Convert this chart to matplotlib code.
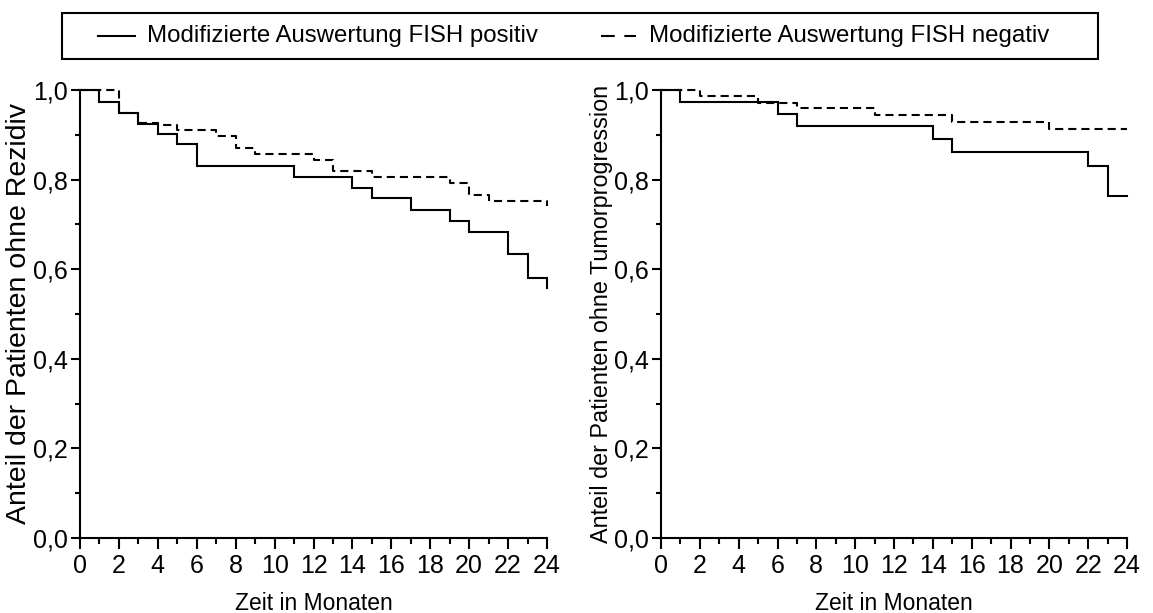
import matplotlib
matplotlib.use("Agg")
import matplotlib.pyplot as plt
from matplotlib.lines import Line2D
from matplotlib.patches import Rectangle
from matplotlib.ticker import MultipleLocator, FuncFormatter

plt.rcParams['font.family'] = ['Liberation Sans', 'DejaVu Sans']

# Kaplan-Meier estimates (months, survival fraction)
rez_pos_t = [0, 1, 2, 3, 4, 5, 6, 11, 14, 15, 17, 19, 20, 22, 23, 24]
rez_pos_s = [1.0, 0.973, 0.949, 0.925, 0.902, 0.879, 0.830, 0.806, 0.782,
             0.758, 0.732, 0.708, 0.682, 0.633, 0.581, 0.557]
rez_neg_t = [0, 2, 3, 4, 5, 7, 8, 9, 12, 13, 15, 19, 20, 21, 24]
rez_neg_s = [1.0, 0.949, 0.927, 0.922, 0.910, 0.897, 0.871, 0.857, 0.844,
             0.820, 0.805, 0.792, 0.766, 0.753, 0.740]

prog_pos_t = [0, 1, 6, 7, 14, 15, 22, 23, 24]
prog_pos_s = [1.0, 0.973, 0.946, 0.920, 0.891, 0.862, 0.830, 0.763, 0.763]
prog_neg_t = [0, 2, 5, 7, 11, 15, 20, 24]
prog_neg_s = [1.0, 0.987, 0.972, 0.959, 0.944, 0.928, 0.912, 0.912]

labels = ["Modifizierte Auswertung FISH positiv",
          "Modifizierte Auswertung FISH negativ"]
y_titles = ["Anteil der Patienten ohne Rezidiv",
            "Anteil der Patienten ohne Tumorprogression"]
x_title = "Zeit in Monaten"

W, H = 1153, 613
fig = plt.figure(figsize=(W / 100, H / 100), dpi=100)


def fx(px):
    return px / W


def fy(py):
    return 1 - py / H


LW = 1.5
DASH = (0, (3.9, 2.4))
TICK_FS = 18
XT_FS = 16.5
YT_FS = [20.5, 16.8]
LEG_FS = 17.3

ax_l = fig.add_axes([fx(80), fy(538), 467 / W, 448 / H])
ax_r = fig.add_axes([fx(661), fy(538), 466 / W, 448 / H])

series = [
    (ax_l, rez_pos_t, rez_pos_s, rez_neg_t, rez_neg_s, y_titles[0], YT_FS[0]),
    (ax_r, prog_pos_t, prog_pos_s, prog_neg_t, prog_neg_s, y_titles[1], YT_FS[1]),
]

comma = FuncFormatter(lambda v, p: f"{v:.1f}".replace(".", ","))

for ax, pt, ps, nt, ns, ytitle, yfs in series:
    ax.step(pt, ps, where="post", color="black", lw=LW, clip_on=False,
            solid_joinstyle="miter", zorder=3)
    ax.step(nt, ns, where="post", color="black", lw=LW, ls=DASH,
            clip_on=False, zorder=3)
    ax.set_xlim(0, 24)
    ax.set_ylim(0, 1.0)
    for side in ("top", "right"):
        ax.spines[side].set_visible(False)
    for side in ("left", "bottom"):
        ax.spines[side].set_linewidth(LW)
    ax.xaxis.set_major_locator(MultipleLocator(2))
    ax.xaxis.set_minor_locator(MultipleLocator(1))
    ax.yaxis.set_major_locator(MultipleLocator(0.2))
    ax.yaxis.set_minor_locator(MultipleLocator(0.1))
    ax.yaxis.set_major_formatter(comma)
    ax.tick_params(which="both", width=LW, direction="out", color="black",
                   labelsize=TICK_FS)
    ax.tick_params(axis="x", which="major", length=8, pad=3.5)
    ax.tick_params(axis="x", which="minor", length=4.5)
    ax.tick_params(axis="y", which="major", length=6.5, pad=2)
    ax.tick_params(axis="y", which="minor", length=3.5)
    ax.set_xlabel(x_title, fontsize=XT_FS, labelpad=10)
    ax.set_ylabel(ytitle, fontsize=yfs, labelpad=1)
    ax.set_facecolor("none")

# Legend strip across the top
fig.add_artist(Rectangle((fx(62), fy(59)), (1098 - 62) / W, 46 / H,
                         transform=fig.transFigure, fill=False,
                         edgecolor="black", lw=LW))
ly = fy(36)
fig.add_artist(Line2D([fx(98), fx(135)], [ly, ly], transform=fig.transFigure,
                      color="black", lw=LW))
fig.text(fx(147), ly, labels[0], fontsize=LEG_FS, va="center", ha="left")
fig.add_artist(Line2D([fx(601), fx(636)], [ly, ly], transform=fig.transFigure,
                      color="black", lw=LW, ls=(0, (6.6, 4.6))))
fig.text(fx(649), ly, labels[1], fontsize=LEG_FS, va="center", ha="left")

fig.savefig("out.png", dpi=100)
